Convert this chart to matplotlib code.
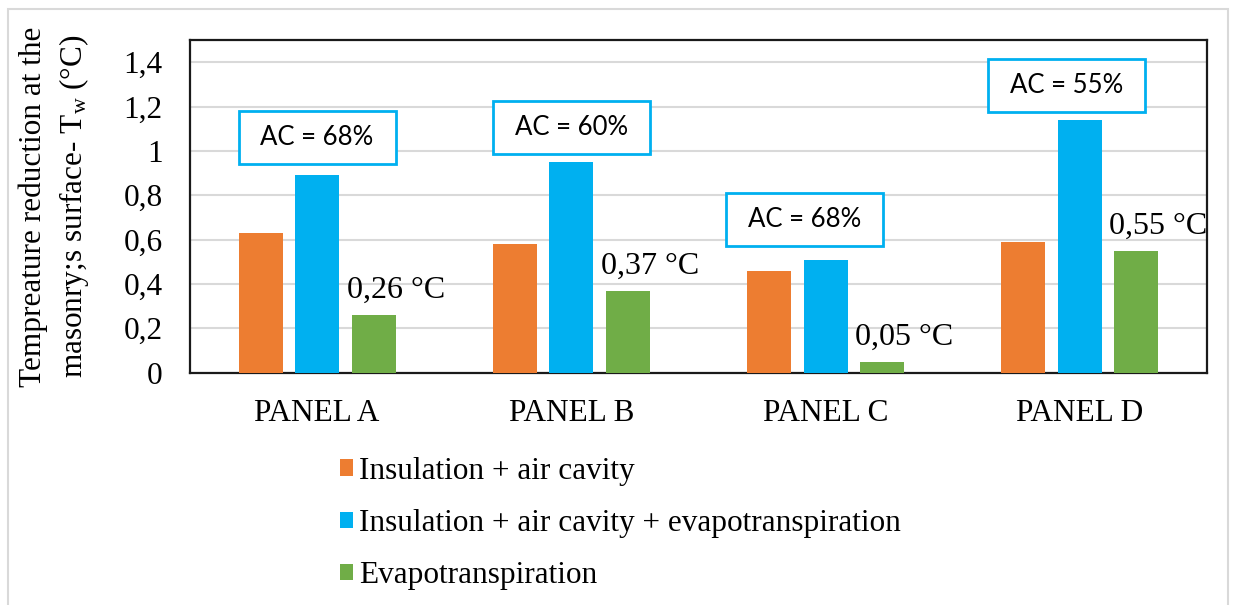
import numpy as np
import matplotlib
matplotlib.use("Agg")
import matplotlib.pyplot as plt
from matplotlib.patches import Patch, Rectangle

plt.rcParams['font.family'] = ['Liberation Serif', 'DejaVu Serif']
plt.rcParams['mathtext.fontset'] = 'custom'
plt.rcParams['mathtext.rm'] = 'Liberation Serif'
plt.rcParams['mathtext.it'] = 'Liberation Serif:italic'

panels = ['PANEL A', 'PANEL B', 'PANEL C', 'PANEL D']
series_names = ['Insulation + air cavity',
                'Insulation + air cavity + evapotranspiration',
                'Evapotranspiration']
insul_air = [0.63, 0.58, 0.46, 0.59]
insul_air_evap = [0.89, 0.95, 0.51, 1.14]
evap = [0.26, 0.37, 0.05, 0.55]
evap_labels = ['0,26 °C', '0,37 °C', '0,05 °C', '0,55 °C']
ac_labels = ['AC = 68%', 'AC = 60%', 'AC = 68%', 'AC = 55%']

colors = ['#ED7D31', '#00B0F0', '#70AD47']

# box placement (x offset from category centre, y centre in data units)
ac_dx = [0.0, 0.0, -0.083, -0.053]
ac_y = [1.06, 1.105, 0.69, 1.294]
box_w, box_h = 0.617, 0.239

fig = plt.figure(figsize=(12.35, 6.05), dpi=100)
ax = fig.add_axes([0.1538, 0.3840, 0.8235, 0.5499])

x = np.arange(len(panels))
step, width = 0.222, 0.173
for i, vals in enumerate([insul_air, insul_air_evap, evap]):
    ax.bar(x + (i - 1) * step, vals, width, color=colors[i], zorder=3)

# value labels above the evapotranspiration bars
for xi, v, lab in zip(x, evap, evap_labels):
    ax.annotate(lab, xy=(xi + step - width / 2, v), xytext=(-5, 17),
                textcoords='offset pixels', ha='left', va='baseline',
                fontsize=23, zorder=5)

# AC boxes
for xi, dx, yc, lab in zip(x, ac_dx, ac_y, ac_labels):
    cx = xi + dx
    ax.add_patch(Rectangle((cx - box_w / 2, yc - box_h / 2), box_w, box_h,
                           facecolor='white', edgecolor='#00B0F0',
                           linewidth=2, zorder=4))
    ax.text(cx, yc, lab, ha='center', va='center', fontsize=18.5,
            family='Lato', zorder=5)

ax.set_xlim(-0.5, 3.5)
ax.set_ylim(0, 1.5)
ax.set_yticks(np.arange(0, 1.41, 0.2))
ax.set_yticklabels(['0', '0,2', '0,4', '0,6', '0,8', '1', '1,2', '1,4'])
ax.set_xticks(x)
ax.set_xticklabels(panels)
ax.tick_params(axis='both', length=0, labelsize=22.5)
ax.tick_params(axis='y', pad=19.5)
ax.tick_params(axis='x', pad=19)
ax.grid(axis='y', color='#D9D9D9', linewidth=1.5, zorder=0)
for s in ax.spines.values():
    s.set_color('#1a1a1a')
    s.set_linewidth(1.6)

ax.set_ylabel('Tempreature reduction at the\nmasonry;s surface- T$_\\mathregular{w}$ (°C)',
              fontsize=22.5, va='center', linespacing=1.35)
ax.yaxis.set_label_coords(-0.1327, 0.5)

handles = [Patch(facecolor=c, edgecolor='none') for c in colors]
fig.legend(handles, series_names, loc='center left',
           bbox_to_anchor=(0.2753, 0.135), frameon=False, fontsize=22.5,
           handlelength=0.42, handleheight=0.42, handletextpad=0.19,
           labelspacing=0.74, borderpad=0, borderaxespad=0)

# light outer frame
fig.patches.append(Rectangle((8 / 1235, -0.05), 1220 / 1235, 1.05 - 9 / 605,
                             transform=fig.transFigure, fill=False,
                             edgecolor='#D9D9D9', linewidth=1.5))

fig.savefig('out.png', dpi=100)
